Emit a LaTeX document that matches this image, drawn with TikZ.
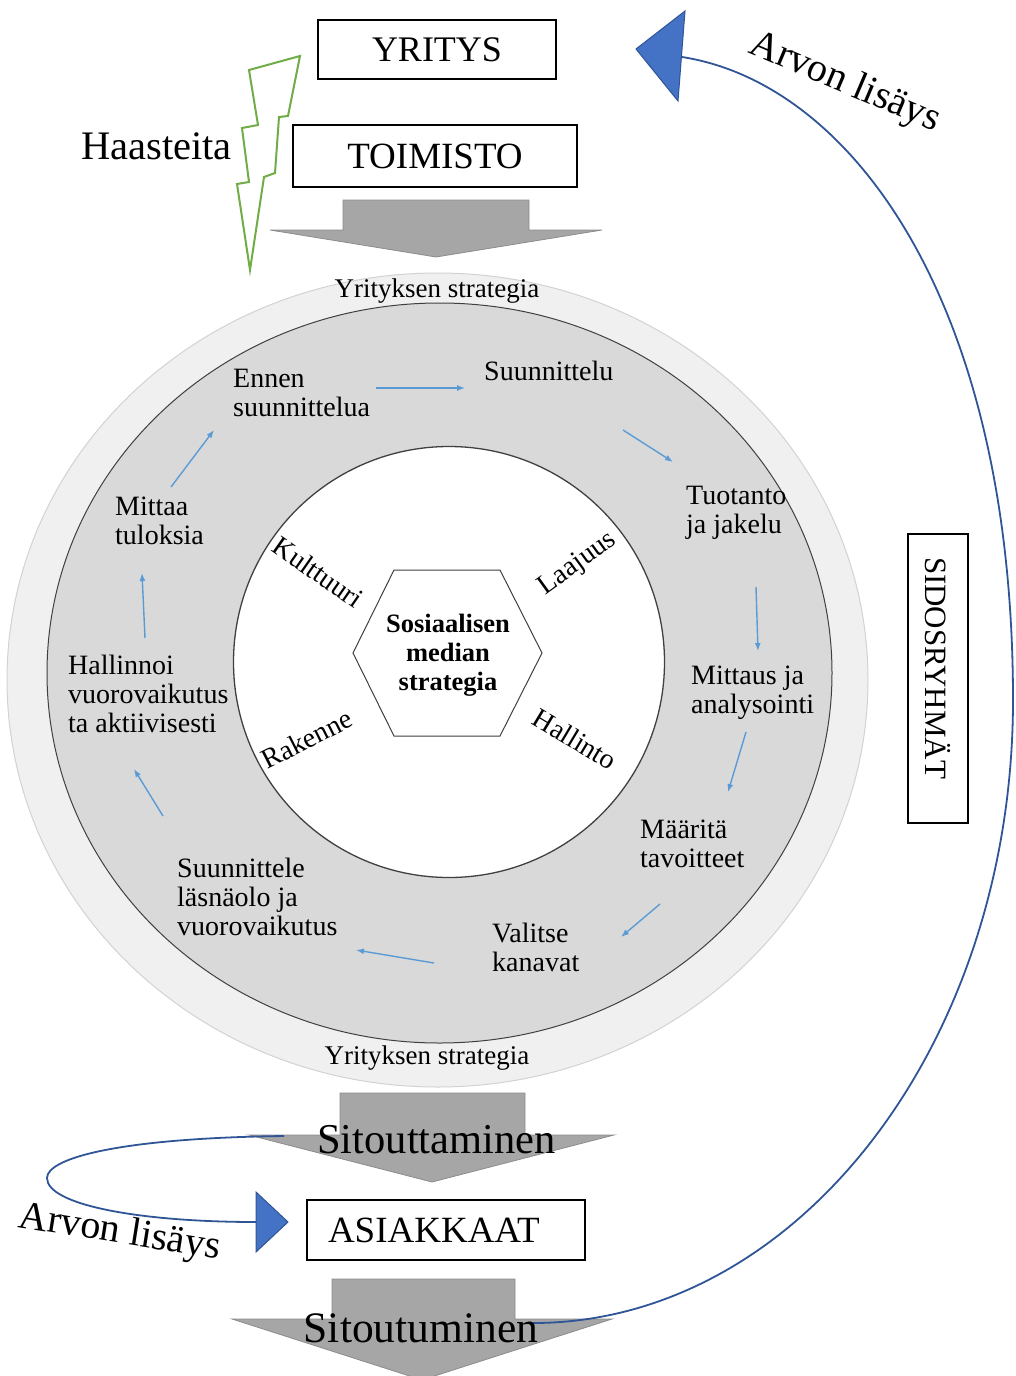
\documentclass[tikz,border=0pt]{standalone}
\usepackage{fontspec}
\setmainfont{Liberation Serif}
\usetikzlibrary{arrows.meta,shapes.geometric}

\definecolor{ringout}{HTML}{F0F0F0}
\definecolor{ringoutline}{HTML}{D2D2D2}
\definecolor{ringmid}{HTML}{D9D9D9}
\definecolor{ringline}{HTML}{404040}
\definecolor{stepblue}{HTML}{5B9BD5}
\definecolor{loopblue}{HTML}{2F5597}
\definecolor{tipblue}{HTML}{4472C4}
\definecolor{boltgreen}{HTML}{70AD47}
\definecolor{flowgray}{HTML}{A6A6A6}
\definecolor{flowedge}{HTML}{8C8C8C}

\begin{document}
\begin{tikzpicture}[x=1pt,y=-1pt,
  bigbox/.style={draw=black, line width=1.5pt, fill=white, inner sep=0pt,
                 font=\fontsize{37}{40}\selectfont},
  steptext/.style={anchor=base west, inner sep=0pt, font=\fontsize{28}{29}\selectfont},
  spoke/.style={inner sep=0pt, font=\fontsize{28}{29}\selectfont},
  strat/.style={anchor=base, inner sep=0pt, font=\fontsize{27}{29}\selectfont},
  flowarrow/.style={fill=flowgray, draw=flowedge, line width=0.8pt, line join=miter},
  flowlabel/.style={anchor=base, inner sep=0pt},
  stepflow/.style={draw=stepblue, line width=1.4pt, -{Latex[length=8pt,width=6pt]}},
  valueline/.style={draw=loopblue, line width=1.8pt},
  valuetip/.style={fill=tipblue, draw=loopblue, line width=1pt, line join=miter},
  valuelabel/.style={anchor=base, inner sep=0pt, font=\fontsize{40}{44}\selectfont}]

\useasboundingbox (0,0) rectangle (1015,1376);

% strategy rings
\node[ellipse, draw=ringoutline, line width=1pt, fill=ringout,
      minimum width=861, minimum height=814, inner sep=0pt] (outer) at (437.5,680) {};
\node[ellipse, draw=ringline, line width=1pt, fill=ringmid,
      minimum width=785, minimum height=740, inner sep=0pt] (middle) at (439.5,673) {};
\node[circle, draw=ringline, line width=1.3pt, fill=white,
      minimum size=431, inner sep=0pt] (inner) at (449,662) {};

% hexagonal core
\draw[draw=ringline, line width=1pt, fill=white, line join=miter]
  (353,653) -- (394,570) -- (500,570) -- (542,653) -- (500,736) -- (394,736) -- cycle;
\node[inner sep=0pt, align=center, font=\bfseries\fontsize{26.5}{29}\selectfont]
      (core) at (448,655) {Sosiaalisen\\median\\strategia};

\node[strat] (stratTop) at (437,297) {Yrityksen strategia};
\node[strat] (stratBot) at (427,1064) {Yrityksen strategia};

% four dimensions around the core
\node[spoke, rotate=-35] (kult) at (318,572) {Kulttuuri};
\node[spoke, rotate=36]  (laaj) at (578,564) {Laajuus};
\node[spoke, rotate=27]  (rak)  at (307,739) {Rakenne};
\node[spoke, rotate=-31] (hall) at (575,739) {Hallinto};

% planning cycle
\node[steptext] (s1) at (233,387) {\vtop{\hbox{Ennen}\hbox{suunnittelua}}};
\node[steptext] (s2) at (484,380) {Suunnittelu};
\node[steptext] (s3) at (686,504) {\vtop{\hbox{Tuotanto}\hbox{ja jakelu}}};
\node[steptext] (s4) at (691,684) {\vtop{\hbox{Mittaus ja}\hbox{analysointi}}};
\node[steptext] (s5) at (640,838) {\vtop{\hbox{Määritä}\hbox{tavoitteet}}};
\node[steptext] (s6) at (492,942) {\vtop{\hbox{Valitse}\hbox{kanavat}}};
\node[steptext] (s7) at (177,877) {\vtop{\hbox{Suunnittele}\hbox{läsnäolo ja}\hbox{vuorovaikutus}}};
\node[steptext] (s8) at (68,674)  {\vtop{\hbox{Hallinnoi}\hbox{vuorovaikutus}\hbox{ta aktiivisesti}}};
\node[steptext] (s9) at (115,515) {\vtop{\hbox{Mittaa}\hbox{tuloksia}}};

\coordinate (a1a) at (376,388); \coordinate (a1b) at (465,388);
\coordinate (a2a) at (623,430); \coordinate (a2b) at (673,462);
\coordinate (a3a) at (756,587); \coordinate (a3b) at (758,651);
\coordinate (a4a) at (746,732); \coordinate (a4b) at (728,792);
\coordinate (a5a) at (660,904); \coordinate (a5b) at (621,937);
\coordinate (a6a) at (434,963); \coordinate (a6b) at (356,950);
\coordinate (a7a) at (163,816); \coordinate (a7b) at (134,769);
\coordinate (a8a) at (145,638); \coordinate (a8b) at (142,573);
\coordinate (a9a) at (171,487); \coordinate (a9b) at (214,430);
\foreach \i in {1,...,9} \draw[stepflow] (a\i a) -- (a\i b);

% grey flow arrows
\draw[flowarrow] (343,200) -- (529,200) -- (529,230) -- (602,230) -- (436,257)
                 -- (270,230) -- (343,230) -- cycle;
\draw[flowarrow] (340,1093) -- (525,1093) -- (525,1135) -- (614,1135) -- (432,1182)
                 -- (249,1135) -- (340,1135) -- cycle;
\draw[flowarrow] (332,1279) -- (515,1279) -- (515,1319) -- (612,1319) -- (422,1380)
                 -- (232,1319) -- (332,1319) -- cycle;

% value added loops
\coordinate (vstart) at (533,1323);
\coordinate (vturn)  at (1013,700);
\coordinate (vend)   at (682,57);
\draw[valueline] (vstart) .. controls (798,1323) and (1013,1043) .. (vturn)
                 .. controls (1013,300) and (850,83) .. (vend);
\draw[valuetip] (636,49) -- (685,11) -- (678,101) -- cycle;

\coordinate (lstart) at (284,1136);
\coordinate (lleft)  at (47,1178);
\coordinate (lend)   at (256,1222);
\draw[valueline] (lstart) .. controls (120,1138) and (47,1158) .. (lleft)
                 .. controls (47,1205) and (140,1222) .. (lend);
\draw[valuetip] (256,1192) -- (288,1222) -- (256,1252) -- cycle;

\node[flowlabel, font=\fontsize{42.5}{44}\selectfont] (sitouttaminen) at (436.5,1153) {Sitouttaminen};
\node[flowlabel, font=\fontsize{43.5}{44}\selectfont] (sitoutuminen) at (421,1342) {Sitoutuminen};

\node[valuelabel, rotate=-23] (arvoTop) at (841,92) {Arvon lisäys};
\node[valuelabel, rotate=-9]  (arvoBot) at (118,1243) {Arvon lisäys};

% organisation boxes
\node[bigbox, minimum width=238, minimum height=59, font=\fontsize{36}{40}\selectfont]
      (yritys) at (437,49.5) {YRITYS};
\node[bigbox, minimum width=284, minimum height=62] (toimisto) at (435,156) {TOIMISTO};
\node[bigbox, text width=236pt, inner xsep=21pt, align=left, minimum height=60]
      (asiakkaat) at (446,1230) {ASIAKKAAT};
\node[bigbox, line width=2pt, rotate=-90, text width=243pt, inner xsep=23pt, align=left,
      minimum height=60, font=\fontsize{31}{34}\selectfont]
      (sidos) at (938,678.5) {SIDOSRYHMÄT};

% challenges
\draw[draw=boltgreen, line width=2pt, fill=white, line join=miter]
  (300,56) -- (249,70) -- (258,125) -- (242,128) -- (249,182) -- (237,184) -- (250,270)
  -- (264,177) -- (275,173) -- (279,117) -- (288,116) -- cycle;
\node[anchor=base, inner sep=0pt, font=\fontsize{40.5}{44}\selectfont] (haasteita)
      at (156.5,159) {Haasteita};

\end{tikzpicture}
\end{document}
